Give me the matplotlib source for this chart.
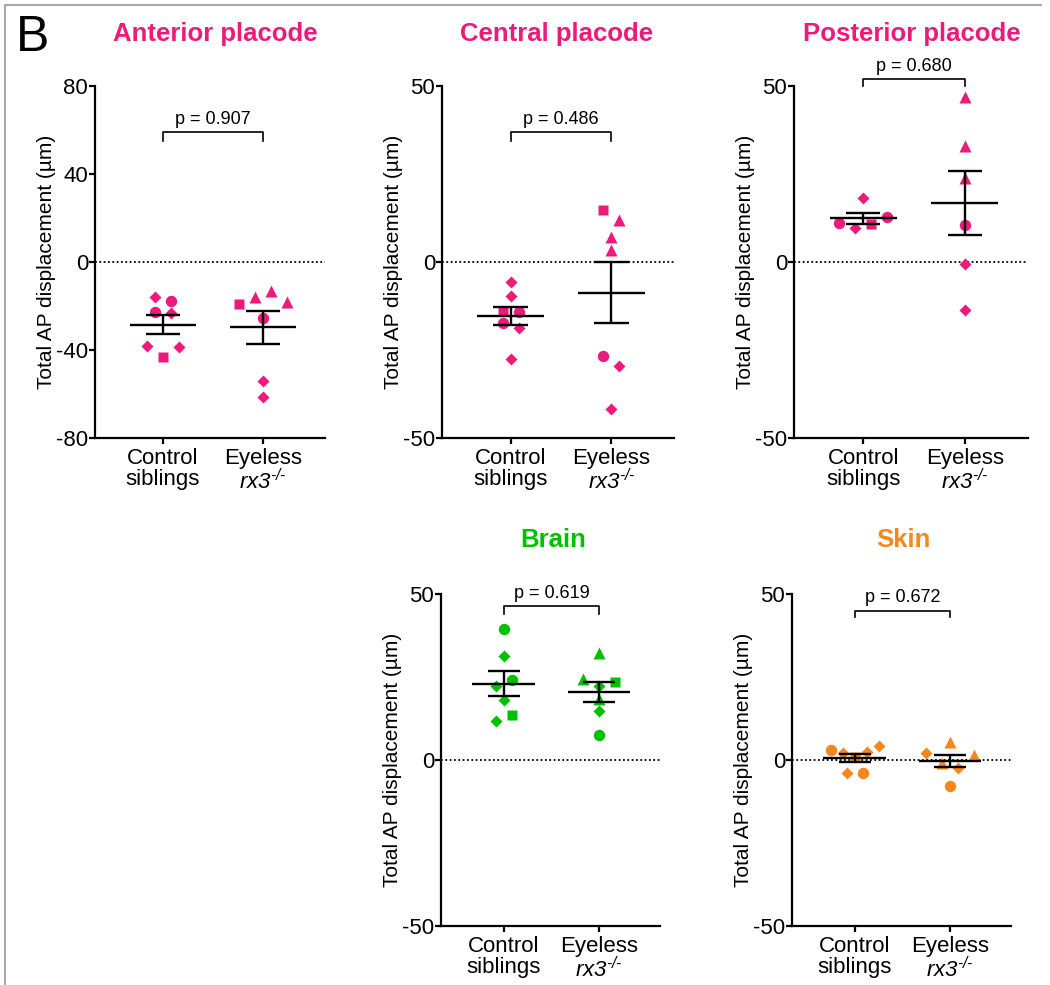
import numpy as np
import matplotlib
matplotlib.use('Agg')
import matplotlib.pyplot as plt
from matplotlib.lines import Line2D

plt.rcParams['font.family'] = ['Liberation Sans', 'DejaVu Sans']
plt.rcParams['axes.unicode_minus'] = False
plt.rcParams['mathtext.fontset'] = 'custom'
plt.rcParams['mathtext.rm'] = 'Liberation Sans:italic'
plt.rcParams['mathtext.it'] = 'Liberation Sans:italic'

# ---- data ----
groups = ['Control\nsiblings', 'Eyeless\n$\\mathit{rx3}^{\\text{-/-}}$']

# experiment id per point: 0 circle, 1 square, 2 triangle, 3 diamond
ant_ctrl = [-15.8, -17.7, -22.6, -23.3, -38.0, -43.3, -38.8]
ant_ctrl_exp = [3, 0, 0, 3, 3, 1, 3]
ant_eye = [-19.2, -15.8, -13.2, -18.3, -25.3, -54.1, -61.5]
ant_eye_exp = [1, 2, 2, 2, 0, 3, 3]

cen_ctrl = [-5.8, -9.7, -13.8, -14.3, -17.4, -18.7, -27.6]
cen_ctrl_exp = [3, 3, 1, 0, 0, 3, 3]
cen_eye = [14.8, 11.9, 7.0, 3.4, -26.7, -29.5, -41.8]
cen_eye_exp = [1, 2, 2, 2, 0, 3, 3]

pos_ctrl = [18.3, 11.0, 9.6, 10.7, 12.8]
pos_ctrl_exp = [3, 0, 3, 1, 0]
pos_eye = [47.0, 32.9, 23.9, 10.5, -0.5, -13.5]
pos_eye_exp = [2, 2, 2, 0, 3, 3]

brn_ctrl = [39.4, 31.3, 22.4, 24.2, 18.2, 11.8, 13.5]
brn_ctrl_exp = [0, 3, 3, 0, 3, 3, 1]
brn_eye = [32.2, 24.3, 22.2, 23.5, 18.5, 14.8, 7.4]
brn_eye_exp = [2, 2, 3, 1, 2, 3, 0]

skn_ctrl = [3.1, 2.2, 0.8, 2.5, 4.1, -3.9, -3.9]
skn_ctrl_exp = [0, 3, 1, 3, 3, 3, 0]
skn_eye = [5.3, 2.0, -0.9, -2.5, 1.5, -7.7]
skn_eye_exp = [2, 3, 2, 3, 2, 0]

titles = ['Anterior placode', 'Central placode', 'Posterior placode', 'Brain', 'Skin']
pvals = ['0.907', '0.486', '0.680', '0.619', '0.672']
yticks_big = [-80, -40, 0, 40, 80]
yticks_small = [-50, 0, 50]

# ---- style ----
PINK = '#EC1A7B'
GREEN = '#00C000'
ORANGE = '#F7871C'
markers = {0: ('o', 8.2), 1: ('s', 7.6), 2: ('^', 9.0), 3: ('D', 6.4)}

W, H = 1050, 985
fig = plt.figure(figsize=(W / 100, H / 100), dpi=100)


def px_axes(x0, x1, ytop, ybot):
    return fig.add_axes([x0 / W, 1 - ybot / H, (x1 - x0) / W, (ybot - ytop) / H])


def scatter_offsets(vals, ppu_y, ppu_x, gap=10.5, step=16.0, maxw=48.0):
    # points closer than `gap` px (chained) share a row and are spread sideways
    vals = np.asarray(vals, float)
    order = sorted(range(len(vals)), key=lambda i: -vals[i])
    rows, cur = [], [order[0]]
    for a, b in zip(order[:-1], order[1:]):
        if (vals[a] - vals[b]) * ppu_y < gap:
            cur.append(b)
        else:
            rows.append(cur)
            cur = [b]
    rows.append(cur)
    offs = np.zeros(len(vals))
    for r in rows:
        r = sorted(r)
        n = len(r)
        sp = step if n < 2 else min(step, maxw / (n - 1))
        for k, i in enumerate(r):
            offs[i] = (k - (n - 1) / 2) * sp / ppu_x
    return offs


def panel(ax, ctrl, ctrl_exp, eye, eye_exp, color, ylim, yticks, xlim,
          title, tx, ty, p, ybr, ytk):
    ax.set_xlim(*xlim)
    ax.set_ylim(*ylim)
    bb = ax.get_position()
    ppu_y = bb.height * H / (ylim[1] - ylim[0])
    ppu_x = bb.width * W / (xlim[1] - xlim[0])
    ax.axhline(0, color='black', lw=1.3, ls=(0, (1, 1.4)), zorder=1)
    for xi, (vals, exps) in enumerate([(ctrl, ctrl_exp), (eye, eye_exp)]):
        offs = scatter_offsets(vals, ppu_y, ppu_x)
        for v, e, o in zip(vals, exps, offs):
            m, ms = markers[e]
            ax.plot(xi + o, v, marker=m, ms=ms, color=color, mec='none',
                    ls='none', zorder=2, clip_on=False)
        v = np.asarray(vals)
        mean = v.mean()
        sem = v.std(ddof=1) / np.sqrt(len(v))
        kw = dict(color='black', lw=1.7, zorder=3, solid_capstyle='butt')
        ax.plot([xi - 0.33, xi + 0.33], [mean, mean], **kw)
        ax.plot([xi - 0.17, xi + 0.17], [mean + sem, mean + sem], **kw)
        ax.plot([xi - 0.17, xi + 0.17], [mean - sem, mean - sem], **kw)
        ax.plot([xi, xi], [mean - sem, mean + sem], **kw)
    # significance bracket
    ax.plot([0, 0, 1, 1], [ytk, ybr, ybr, ytk], color='black', lw=1.2,
            clip_on=False)
    ax.annotate('p = ' + p, xy=(0.5, ybr), xytext=(0, 3),
                textcoords='offset points', ha='center', va='bottom',
                fontsize=13, annotation_clip=False)
    ax.set_xticks([0, 1])
    ax.set_xticklabels(groups, fontsize=16, linespacing=1.0)
    ax.set_yticks(yticks)
    ax.tick_params(axis='y', labelsize=16, width=1.6, length=4, pad=1)
    ax.tick_params(axis='x', width=1.6, length=4, pad=3)
    for s in ['top', 'right']:
        ax.spines[s].set_visible(False)
    for s in ['left', 'bottom']:
        ax.spines[s].set_linewidth(1.6)
    ax.set_ylabel('Total AP displacement (µm)', fontsize=15, labelpad=0)
    fig.text(tx / W, 1 - ty / H, title, color=color, fontsize=18.5,
             fontweight='bold', ha='center', va='center')


xl_top = (-0.68, 1.62)
xl_bot = (-0.66, 1.64)

ax1 = px_axes(95, 325, 86, 438)
panel(ax1, ant_ctrl, ant_ctrl_exp, ant_eye, ant_eye_exp, PINK, (-80, 80),
      yticks_big, xl_top, titles[0], 215, 34, pvals[0], 59, 55)
ax2 = px_axes(442, 674, 86, 438)
panel(ax2, cen_ctrl, cen_ctrl_exp, cen_eye, cen_eye_exp, PINK, (-50, 50),
      yticks_small, xl_top, titles[1], 557, 34, pvals[1], 37, 34.4)
ax3 = px_axes(794, 1028, 86, 438)
panel(ax3, pos_ctrl, pos_ctrl_exp, pos_eye, pos_eye_exp, PINK, (-50, 50),
      yticks_small, xl_top, titles[2], 912, 34, pvals[2], 52, 50)
ax4 = px_axes(441, 660, 594, 926)
panel(ax4, brn_ctrl, brn_ctrl_exp, brn_eye, brn_eye_exp, GREEN, (-50, 50),
      yticks_small, xl_bot, titles[3], 553, 540, pvals[3], 46.3, 44)
ax5 = px_axes(792, 1011, 594, 926)
panel(ax5, skn_ctrl, skn_ctrl_exp, skn_eye, skn_eye_exp, ORANGE, (-50, 50),
      yticks_small, xl_bot, titles[4], 903, 540, pvals[4], 45, 43)

fig.text(16 / W, 1 - 38 / H, 'B', fontsize=36, ha='left', va='center')

# grey frame (top and left edges)
fig.add_artist(Line2D([5 / W, 5 / W], [0, 1 - 5 / H], transform=fig.transFigure,
                      color='#A8A8A8', lw=1.5))
fig.add_artist(Line2D([5 / W, 1041 / W], [1 - 5 / H, 1 - 5 / H],
                      transform=fig.transFigure, color='#A8A8A8', lw=1.5))

fig.savefig('out.png', dpi=100)
